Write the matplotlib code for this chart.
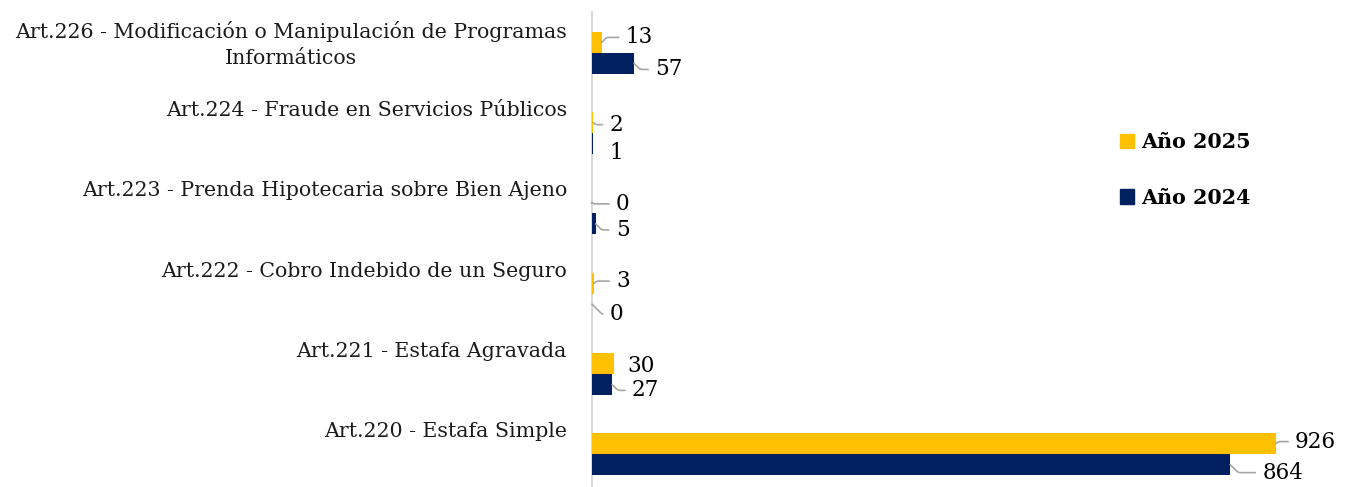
import matplotlib
matplotlib.use("Agg")
import matplotlib.pyplot as plt
import matplotlib.transforms as mtransforms
from matplotlib.patches import Patch

categories = [
    "Art.220 - Estafa Simple",
    "Art.221 - Estafa Agravada",
    "Art.222 - Cobro Indebido de un Seguro",
    "Art.223 - Prenda Hipotecaria sobre Bien Ajeno",
    "Art.224 - Fraude en Servicios Públicos",
    "Art.226 - Modificación o Manipulación de Programas\nInformáticos",
]
values_2025 = [926, 30, 3, 0, 2, 13]
values_2024 = [864, 27, 0, 5, 1, 57]
series_names = ["Año 2025", "Año 2024"]

# label offsets in pixels (dx, dy) from bar end / bar centre, and leader flag
off_2025 = [(19, 2), (13, -3), (22, 2), (24, -1), (16, -2), (24, 5)]
off_2024 = [(32, -8), (20, -6), (18, -10), (20, -6), (17, -9), (21, -6)]
lead_2025 = [True, False, True, True, True, True]
lead_2024 = [True, True, True, True, False, True]

C25 = "#FFC000"
C24 = "#002060"
GRAY = "#A6A6A6"
FONT = "DejaVu Serif"
FS_CAT = 14.8
FS_VAL = 15.5
FS_LEG = 14.9

W, H, DPI = 1348, 487, 100
fig = plt.figure(figsize=(W / DPI, H / DPI), dpi=DPI)
ax_left = 592 / W
ax_top = 1 - 12 / H
ax = fig.add_axes([ax_left, 0.0, 0.985 - ax_left, ax_top])

ypos = list(range(len(categories)))
bh = 0.262
ax.barh([y + bh / 2 for y in ypos], values_2025, height=bh, color=C25, zorder=3)
ax.barh([y - bh / 2 for y in ypos], values_2024, height=bh, color=C24, zorder=3)

ax.set_ylim(-0.41, 5.51)
ax_w_px = (0.985 - ax_left) * W
ax.set_xlim(0, ax_w_px / 0.7387)

for s in ["top", "right", "bottom"]:
    ax.spines[s].set_visible(False)
ax.spines["left"].set_color("#D9D9D9")
ax.spines["left"].set_linewidth(1.5)
ax.set_xticks([])
ax.set_yticks([])

# category labels
ytrans = ax.get_yaxis_transform()
off = mtransforms.ScaledTranslation(-25 / DPI, 32 / DPI, fig.dpi_scale_trans)
for y, lab in zip(ypos, categories):
    ax.text(0, y, lab, transform=ytrans + off, ha="right", va="top",
            multialignment="center", fontsize=FS_CAT, family=FONT, color="#1a1a1a",
            linespacing=1.5)

def label(vals, offs, leads, dy_bar):
    for y, v, (dx, dy), ld in zip(ypos, vals, offs, leads):
        ang = 45 if dy > 0 else -45
        kw = {}
        if ld:
            kw["arrowprops"] = dict(arrowstyle="-", color=GRAY, lw=1.2,
                                    shrinkA=3, shrinkB=0, relpos=(0, 0.5),
                                    connectionstyle=f"angle,angleA=0,angleB={ang},rad=2")
        ax.annotate(str(v), xy=(v, y + dy_bar), xytext=(dx, dy),
                    textcoords="offset pixels", ha="left", va="center",
                    fontsize=FS_VAL, family=FONT, color="#000000",
                    annotation_clip=False, **kw)

label(values_2025, off_2025, lead_2025, bh / 2)
label(values_2024, off_2024, lead_2024, -bh / 2)

handles = [Patch(color=C25), Patch(color=C24)]
fig.legend(handles, series_names, loc="upper left",
           bbox_to_anchor=(1120 / W, 1 - 132 / H), frameon=False,
           prop=dict(family=FONT, weight="bold", size=FS_LEG),
           handlelength=0.7, handleheight=0.7, handletextpad=0.3,
           labelspacing=1.72, borderpad=0, borderaxespad=0)

fig.savefig("out.png", dpi=DPI)
